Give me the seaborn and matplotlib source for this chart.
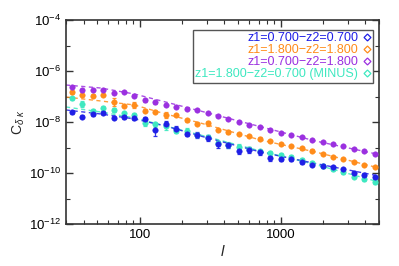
import numpy as np
import pandas as pd
import matplotlib
matplotlib.use("Agg")
import matplotlib.pyplot as plt
from matplotlib.lines import Line2D
from matplotlib.ticker import FixedLocator, NullFormatter, FixedFormatter, LogFormatterSciNotation
import seaborn as sns

# ---------------- data ----------------
ell = [33.0, 39.1, 46.4, 55.1, 65.3, 77.5, 91.9, 109, 129, 153, 182, 216, 256, 304, 360,
       427, 507, 601, 713, 846, 1003, 1190, 1411, 1674, 1986, 2355, 2794, 3314, 3930, 4662]

c_blue = [2.40e-8, 1.64e-8, 2.06e-8, 2.32e-8, 1.50e-8, 1.57e-8, 1.50e-8, 1.28e-8, 4.86e-9, 8.35e-9,
          5.56e-9, 3.54e-9, 3.09e-9, 2.29e-9, 1.33e-9, 1.20e-9, 7.29e-10, 7.98e-10, 6.37e-10, 3.77e-10,
          3.44e-10, 3.54e-10, 2.77e-10, 2.15e-10, 1.88e-10, 1.67e-10, 1.40e-10, 1.03e-10, 8.35e-11, 6.78e-11]
c_orange = [1.44e-7, 1.15e-7, 1.07e-7, 1.15e-7, 6.25e-8, 4.24e-8, 4.64e-8, 2.82e-8, 2.58e-8, 1.88e-8,
            1.88e-8, 1.15e-8, 8.73e-9, 8.89e-9, 4.86e-9, 4.17e-9, 3.38e-9, 2.82e-9, 2.21e-9, 1.80e-9,
            1.37e-9, 1.15e-9, 9.14e-10, 7.62e-10, 5.56e-10, 4.36e-10, 3.54e-10, 2.77e-10, 2.06e-10, 1.67e-10]
c_purple = [2.36e-7, 1.75e-7, 1.80e-7, 1.80e-7, 1.37e-7, 1.50e-7, 1.09e-7, 6.97e-8, 5.82e-8, 4.64e-8,
            3.88e-8, 3.38e-8, 2.96e-8, 2.25e-8, 1.77e-8, 1.31e-8, 1.00e-8, 7.83e-9, 6.19e-9, 4.86e-9,
            3.80e-9, 3.01e-9, 2.51e-9, 1.97e-9, 1.64e-9, 1.37e-9, 1.15e-9, 8.97e-10, 7.10e-10, 5.56e-10]
c_cyan = [8.35e-8, 5.08e-8, 2.70e-8, 3.70e-8, 2.96e-8, 2.19e-8, 1.80e-8, 8.89e-9, 7.98e-9, 6.97e-9,
          4.56e-9, 4.44e-9, 3.18e-9, 2.51e-9, 1.44e-9, 1.25e-9, 1.07e-9, 8.73e-10, 6.97e-10, 6.25e-10,
          5.08e-10, 4.36e-10, 3.24e-10, 2.54e-10, 1.80e-10, 1.40e-10, 1.06e-10, 7.29e-11, 5.66e-11, 4.44e-11]

# error bars, in dex
e_blue = [0.06, 0.07, 0.06, 0.06, 0.07, 0.07, 0.08, 0.08, 0.25, 0.12, 0.08, 0.08, 0.12, 0.12, 0.15,
          0.08, 0.12, 0.10, 0.08, 0.10, 0.08, 0.08, 0.08, 0.06, 0.06, 0.06, 0.06, 0.06, 0.06, 0.06]
e_orange = [0.05, 0.05, 0.05, 0.05, 0.15, 0.05, 0.12, 0.05, 0.05, 0.10, 0.05, 0.05, 0.06, 0.10, 0.05,
            0.08, 0.05, 0.05, 0.05, 0.05, 0.04, 0.04, 0.04, 0.04, 0.04, 0.04, 0.04, 0.04, 0.04, 0.04]
e_purple = [0.05, 0.05, 0.05, 0.05, 0.05, 0.05, 0.05, 0.05, 0.05, 0.05, 0.05, 0.04, 0.04, 0.04, 0.04,
            0.04, 0.04, 0.04, 0.04, 0.04, 0.04, 0.04, 0.04, 0.04, 0.04, 0.04, 0.04, 0.04, 0.04, 0.04]
e_cyan = [0.06, 0.10, 0.06, 0.06, 0.08, 0.06, 0.08, 0.12, 0.08, 0.15, 0.10, 0.10, 0.08, 0.08, 0.10,
          0.10, 0.10, 0.08, 0.06, 0.06, 0.06, 0.06, 0.06, 0.06, 0.06, 0.06, 0.06, 0.06, 0.06, 0.06]

# theory (dashed) curves
ell_th = [30, 53, 92, 153, 270, 720, 1770, 5000]
th_blue = [2.96e-8, 2.06e-8, 1.31e-8, 6.97e-9, 2.82e-9, 6.67e-10, 2.36e-10, 7.62e-11]
th_orange = [9.55e-8, 6.67e-8, 4.64e-8, 2.06e-8, 9.14e-9, 1.97e-9, 6.67e-10, 1.57e-10]
th_purple = [2.82e-7, 2.15e-7, 1.25e-7, 6.08e-8, 2.70e-8, 6.55e-9, 1.80e-9, 5.31e-10]
th_cyan = [3.88e-8, 2.47e-8, 1.44e-8, 6.97e-9, 3.09e-9, 7.29e-10, 2.15e-10, 4.44e-11]

labels = ["z1=0.700\u2212z2=0.700", "z1=1.800\u2212z2=1.800",
          "z1=0.700\u2212z2=1.800", "z1=1.800\u2212z2=0.700 (MINUS)"]
colors = ["#1f1fe6", "#ff8c1a", "#9b30e0", "#3ee8c0"]

x_ticks = [100, 1000]
x_ticklabels = ["100", "1000"]
y_major = [1e-12, 1e-10, 1e-8, 1e-6, 1e-4]
y_minor = [1e-11, 1e-9, 1e-7, 1e-5]

# ---------------- plot ----------------
sns.set_style("ticks")
plt.rcParams["font.family"] = ["Liberation Sans", "DejaVu Sans"]
plt.rcParams["mathtext.fontset"] = "custom"
plt.rcParams["mathtext.rm"] = "Liberation Sans"
plt.rcParams["mathtext.it"] = "Liberation Sans:italic"

fig = plt.figure(figsize=(3.99, 2.66), dpi=100)
ax = fig.add_axes([66 / 399, 1 - 224 / 266, 313 / 399, 204 / 266])

series = [(c_blue, e_blue, th_blue), (c_orange, e_orange, th_orange),
          (c_purple, e_purple, th_purple), (c_cyan, e_cyan, th_cyan)]
order = [3, 0, 1, 2]
for i in order:
    vals, errs, th = series[i]
    col = colors[i]
    v = np.array(vals)
    d = np.array(errs)
    lo = v * (1 - 10 ** (-d))
    hi = v * (10 ** d - 1)
    ax.errorbar(ell, v, yerr=[lo, hi], fmt="none", ecolor=col, elinewidth=0.9,
                capsize=1.5, capthick=0.9, alpha=0.9, zorder=2)
    df = pd.DataFrame({"ell": ell, "c": vals})
    sns.scatterplot(data=df, x="ell", y="c", ax=ax, color=col, s=16, edgecolor=col,
                    linewidth=0.3, zorder=3, legend=False)
    dth = pd.DataFrame({"ell": ell_th, "c": th})
    sns.lineplot(data=dth, x="ell", y="c", ax=ax, color=col, linestyle=(0, (3, 2.5)),
                 linewidth=1.0, alpha=0.85, zorder=1, legend=False)

ax.set_xscale("log")
ax.set_yscale("log")
ax.set_xlim(30, 5000)
ax.set_ylim(1e-12, 1e-4)

ax.xaxis.set_major_locator(FixedLocator(x_ticks))
ax.xaxis.set_major_formatter(FixedFormatter(x_ticklabels))
ax.xaxis.set_minor_formatter(NullFormatter())
ax.yaxis.set_major_locator(FixedLocator(y_major))
ax.yaxis.set_minor_locator(FixedLocator(y_minor))
ax.yaxis.set_major_formatter(LogFormatterSciNotation())
ax.yaxis.set_minor_formatter(NullFormatter())

ax.tick_params(which="both", direction="in", top=True, right=True, colors="#333333",
               labelcolor="black", labelsize=9.5)
ax.tick_params(which="major", length=5, width=1.0)
ax.tick_params(which="minor", length=3, width=0.8)
for s in ax.spines.values():
    s.set_color("#333333")
    s.set_linewidth(1.2)

ax.set_xlabel("l", fontsize=11, style="italic", labelpad=3)
ax.set_ylabel(r"C$_{\delta\ \kappa}$", fontsize=10, labelpad=1)

handles = [Line2D([0], [0], linestyle="none", marker="D", markersize=3.5,
                  markerfacecolor="none", markeredgecolor=c, markeredgewidth=0.9) for c in colors]
leg = ax.legend(handles, labels, loc="upper right", bbox_to_anchor=(0.981, 0.951),
                borderaxespad=0, markerfirst=False, fontsize=9, labelspacing=0.0,
                handlelength=0.6, handletextpad=0.4, borderpad=0.2, fancybox=False,
                framealpha=1, edgecolor="#555555")
leg.get_frame().set_linewidth(1.0)
for t, c in zip(leg.get_texts(), colors):
    t.set_color(c)
    t.set_ha("right")
leg._legend_box.align = "right"

fig.savefig("out.png", dpi=100)
